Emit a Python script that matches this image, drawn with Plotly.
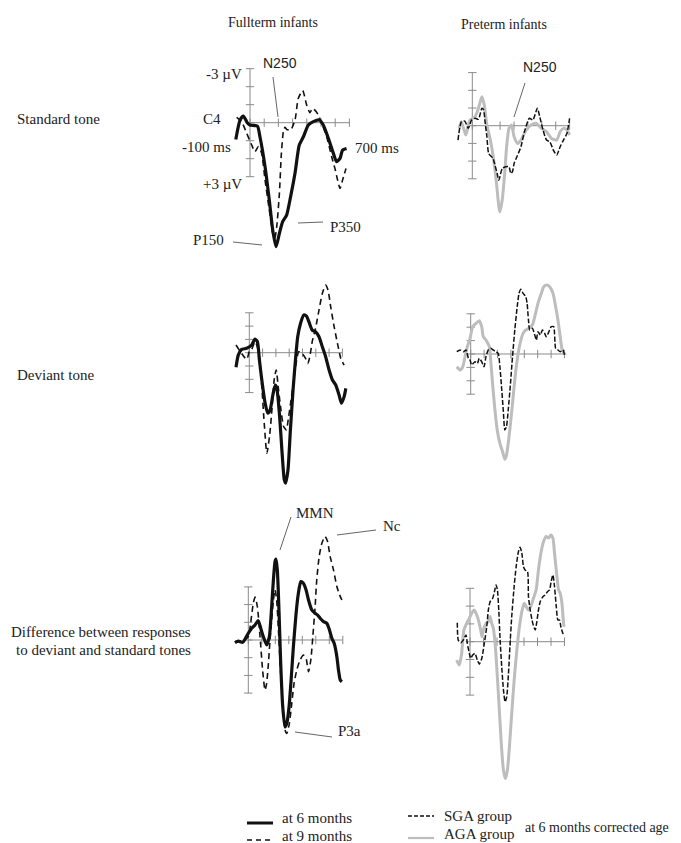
import plotly.graph_objects as go

# ---------------- data (time in ms, amplitude in µV; positive plotted downward) ----------------
# Fullterm, standard tone
ft_std_6m_t = [-100,-70,-47,-19,0,52,70,106,136,160,183,207,230,258,286,317,347,376,411,446,488,516,552,587,610,634,652,680]
ft_std_6m_v = [0.93,-0.15,-0.37,0,0.13,0.19,0.78,2.44,4.3,5.96,6.89,6.15,5.5,5.13,4.11,2.81,1.24,0.78,0.13,-0.06,-0.15,0.13,0.87,1.7,2.17,1.98,1.52,1.43]
ft_std_9m_t = [-94,-59,-23,12,35,59,82,106,136,160,174,188,207,221,235,246,258,286,317,340,371,399,422,441,460,481,505,540,575,598,617,634,652,676]
ft_std_9m_v = [-0.3,-0.06,0.59,1.24,1.61,1.33,1.7,3.19,4.85,6.15,6.43,5.78,3.93,1.7,0.5,0.26,0.37,0.41,-0.15,-1.35,-1.78,-0.98,-0.56,-0.8,-0.67,-0.43,0.04,0.78,1.89,2.54,3.19,3.65,3.19,2.54]

# Preterm, standard tone
pt_std_sga_t = [-103,-78,-54,-29,-5,20,44,69,81,93,105,118,149,166,179,191,215,240,264,277,289,301,321,350,375,411,436,468,485,509,534,558,583,607,632,656,681,700]
pt_std_sga_v = [0.81,-0.23,-0.26,0.15,-0.32,-0.42,-0.36,-0.98,-0.89,-0.13,0.62,1.57,1.85,2.32,2.7,3.08,2.42,2.32,2.32,2.7,2.6,2.13,1.75,1.19,0.34,-0.42,-0.32,-0.98,-0.51,0.25,0.81,0.91,1.38,1.66,1.19,0.81,0.43,-0.42]
pt_std_aga_t = [-95,-78,-47,-17,20,44,69,86,105,130,154,174,191,198,215,233,247,264,282,301,326,350,387,423,460,497,534,570,607,632,656,681,700]
pt_std_aga_v = [0.15,-0.23,0.53,-0.32,-0.51,-0.98,-1.64,-1.17,-0.04,0.81,1.94,3.26,4.58,4.87,4.21,2.7,1.19,0.15,-0.04,0.62,1.0,0.81,0.25,-0.04,-0.13,0.15,0.34,0.72,0.81,0.34,0.15,0.25,0.53]

# Fullterm, deviant tone
ft_dev_6m_t = [-100,-83,-58,-20,18,43,61,76,94,119,139,157,177,195,207,228,245,263,273,291,309,329,347,364,385,410,430,448,473,498,524,549,574,600,625,650,675,693,713,726]
ft_dev_6m_v = [1.1,0.18,-0.25,-0.33,-0.58,-1.03,-0.83,0.55,2.05,3.8,4.55,4.3,3.18,2.43,2.68,4.8,7.3,9.55,9.8,8.8,5.8,2.8,0.55,-1.2,-2.2,-2.83,-2.75,-2.33,-1.7,-1.58,-1.2,-0.45,0.3,1.3,2.05,2.43,3.18,3.8,3.3,2.68]
ft_dev_9m_t = [-100,-20,0,18,43,56,76,94,114,132,152,170,187,202,220,238,258,278,296,314,334,354,372,397,423,440,455,473,498,524,549,574,592,612,638,663,688,713]
ft_dev_9m_v = [-0.58,0.5,-0.08,-0.25,-0.83,-0.58,0.3,2.55,5.55,7.55,6.3,4.3,2.05,1.3,2.8,4.3,5.55,5.8,4.8,3.55,2.05,0.68,-0.08,0.05,0.43,0.8,0.3,-0.83,-1.83,-3.2,-4.45,-5.08,-4.7,-3.45,-1.95,-0.7,0.43,0.93]

# Preterm, deviant tone
pt_dev_sga_t = [-104,-79,-54,-35,-17,-5,7,32,50,64,82,99,114,131,149,168,188,205,218,230,243,255,267,280,297,312,329,347,361,374,391,411,421,431,441,460,478,490,502,520,535,552,564,584,601,619,634,651,668,688,700]
pt_dev_sga_v = [-0.17,-0.3,-0.17,-0.3,0.32,0.45,0.82,0.57,0.7,0.32,0.57,0.95,0.2,-0.3,-0.42,-0.3,-0.17,-0.05,0.95,2.44,4.18,5.67,5.42,4.18,2.19,0.2,-1.79,-3.53,-4.53,-4.83,-4.53,-4.28,-3.78,-2.54,-1.79,-1.92,-1.42,-1.04,-1.67,-1.42,-1.79,-1.54,-1.29,-1.67,-2.04,-2.04,-0.42,-0.3,-0.17,-0.3,0.07]
pt_dev_aga_t = [-104,-79,-59,-42,-25,-5,15,40,64,82,94,114,139,149,163,181,198,218,238,255,267,280,297,312,329,347,366,391,411,436,460,478,502,527,545,569,589,614,634,651,668,683,708]
pt_dev_aga_v = [0.95,1.19,0.95,0.2,-0.55,-1.17,-2.04,-2.29,-2.49,-2.04,-1.29,-1.04,-0.55,0.45,2.19,4.18,5.67,6.67,7.29,7.86,7.54,6.67,5.17,3.68,1.94,0.45,-0.67,-1.54,-1.79,-1.92,-2.16,-2.79,-3.78,-4.53,-5.02,-5.15,-5.02,-4.53,-3.53,-2.54,-1.29,-0.3,0.07]

# Fullterm, difference wave
ft_dif_6m_t = [-99,-74,-42,-25,0,25,50,74,92,111,136,156,173,186,198,205,215,228,240,255,272,285,302,317,334,354,371,389,408,428,446,470,495,512,532,557,582,601,619,636,656,668,681,693]
ft_dif_6m_v = [0.15,0.06,0.13,-0.04,-0.38,-0.66,-0.85,-1.09,-0.66,-0.19,0.28,-0.19,-1.89,-3.4,-4.43,-4.57,-3.96,-1.51,1.32,3.77,4.91,4.72,3.77,2.26,0.38,-1.51,-2.64,-3.3,-3.21,-2.83,-2.26,-1.7,-1.51,-1.42,-1.23,-1.04,-0.94,-0.57,-0.09,0.19,0.94,1.7,2.26,2.36]
ft_dif_9m_t = [-99,-37,0,17,37,50,67,87,106,124,136,149,161,173,186,198,210,223,240,260,272,285,304,322,339,359,384,408,428,446,463,478,495,507,525,545,569,587,606,631,656,676,693]
ft_dif_9m_v = [0.09,0.04,-0.19,-0.94,-2.08,-2.42,-1.89,-0.19,1.7,2.83,2.45,1.32,0,-1.13,-2.26,-2.83,-2.26,-0.57,1.89,4.15,5.09,5.28,4.72,3.58,2.45,1.7,1.13,0.85,1.04,1.79,1.13,-0.19,-1.89,-3.4,-4.72,-5.47,-5.85,-5.57,-4.72,-3.96,-3.02,-2.55,-2.26]

# Preterm, difference wave
pt_dif_sga_t = [-94,-87,-69,-50,-30,-20,-5,5,20,37,54,69,87,104,124,136,149,168,181,193,203,213,223,235,248,260,272,285,297,309,327,342,359,371,384,396,408,426,433,446,465,483,495,507,520,540,557,574,589,601,614,626,639,651,663,673,688,698]
pt_dif_sga_v = [-1.07,-0.09,0.06,-0.09,-0.38,0.09,0.66,0.94,0.75,0.66,1.03,1.26,0.94,0.19,-0.84,-1.78,-2.25,-2.44,-2.81,-3.19,-2.91,-1.78,-0.09,1.41,2.72,3.38,3.1,1.78,0.09,-1.41,-3.1,-4.22,-5.07,-5.31,-4.97,-4.22,-4.03,-3.94,-2.53,-1.78,-1.03,-0.66,-1.13,-1.78,-2.25,-2.53,-2.63,-2.81,-2.91,-3.38,-3.75,-3.1,-1.97,-1.22,-1.22,-0.84,-0.47,-0.38]
pt_dif_aga_t = [-99,-79,-62,-45,-25,-5,12,30,45,62,79,89,99,119,136,149,161,173,186,198,210,223,235,248,262,277,292,309,327,347,366,384,401,416,433,450,470,490,507,525,545,564,582,599,614,626,644,656,668,681,693,698]
pt_dif_aga_v = [1.03,1.31,0.66,-0.66,-1.03,-1.31,-1.59,-1.78,-1.59,-1.22,-0.66,-0.28,-0.66,-1.03,-1.13,-1.41,-1.03,-0.75,0.09,1.41,2.91,4.6,6.1,7.22,7.69,7.22,5.91,4.03,2.16,0.47,-0.84,-1.69,-2.16,-1.97,-1.78,-1.97,-2.44,-2.91,-4.03,-4.97,-5.63,-5.91,-5.82,-6.0,-5.82,-4.97,-3.66,-2.91,-2.72,-2.16,-1.03,-0.84]

x_ticks = [0, 100, 200, 300, 400, 500, 600, 700]
y_ticks = [-3, -2, -1, 0, 1, 2, 3]

# ---------------- layout geometry ----------------
W, H = 681, 843
def pxx(x): return x / W
def pyy(y): return 1 - y / H

# origin pixel (t=0, v=0), px per 100 ms, px per µV
panels = [
    dict(ox=250.0, oy=122.7, sx=14.2, sy=18.0),   # fullterm standard
    dict(ox=472.3, oy=125.7, sx=13.9, sy=17.7),   # preterm standard
    dict(ox=249.3, oy=352.7, sx=13.3, sy=13.3),   # fullterm deviant
    dict(ox=470.7, oy=354.0, sx=13.4, sy=13.4),   # preterm deviant
    dict(ox=248.3, oy=640.0, sx=13.5, sy=17.7),   # fullterm difference
    dict(ox=470.0, oy=641.7, sx=13.5, sy=17.8),   # preterm difference
]
XR = (-130, 740)
YR = (-6.5, 10.5)

BLACK = "#111111"
GRAY = "#bdbdbd"
AXC = "#8a8a8a"

series = [
    [(ft_std_6m_t, ft_std_6m_v, "solid"), (ft_std_9m_t, ft_std_9m_v, "dash")],
    [(pt_std_aga_t, pt_std_aga_v, "gray"), (pt_std_sga_t, pt_std_sga_v, "sga")],
    [(ft_dev_6m_t, ft_dev_6m_v, "solid"), (ft_dev_9m_t, ft_dev_9m_v, "dash")],
    [(pt_dev_aga_t, pt_dev_aga_v, "gray"), (pt_dev_sga_t, pt_dev_sga_v, "sga")],
    [(ft_dif_6m_t, ft_dif_6m_v, "solid"), (ft_dif_9m_t, ft_dif_9m_v, "dash")],
    [(pt_dif_aga_t, pt_dif_aga_v, "gray"), (pt_dif_sga_t, pt_dif_sga_v, "sga")],
]
styles = {
    "solid": dict(color=BLACK, width=3.2, dash="solid"),
    "dash": dict(color=BLACK, width=1.6, dash="6px,4px"),
    "gray": dict(color=GRAY, width=3.0, dash="solid"),
    "sga": dict(color=BLACK, width=1.5, dash="5px,2px"),
}

fig = go.Figure()
layout = dict(width=W, height=H, margin=dict(l=0, r=0, t=0, b=0),
              paper_bgcolor="white", plot_bgcolor="rgba(0,0,0,0)", showlegend=False)

for i, p in enumerate(panels):
    n = i + 1
    xa = "x" if n == 1 else f"x{n}"
    ya = "y" if n == 1 else f"y{n}"
    x0 = p["ox"] + XR[0] / 100 * p["sx"]
    x1 = p["ox"] + XR[1] / 100 * p["sx"]
    ytop = p["oy"] + YR[0] * p["sy"]
    ybot = p["oy"] + YR[1] * p["sy"]
    layout["xaxis" if n == 1 else f"xaxis{n}"] = dict(domain=[pxx(x0), pxx(x1)], range=list(XR),
                                                      visible=False, anchor=ya)
    layout["yaxis" if n == 1 else f"yaxis{n}"] = dict(domain=[pyy(ybot), pyy(ytop)], range=[YR[1], YR[0]],
                                                      visible=False, anchor=xa)
    # axes crossing at (0 ms, 0 µV)
    fig.add_trace(go.Scatter(x=[0, 700], y=[0, 0], mode="lines", line=dict(color=AXC, width=1),
                             xaxis=xa, yaxis=ya, hoverinfo="skip"))
    fig.add_trace(go.Scatter(x=[0, 0], y=[y_ticks[0], y_ticks[-1]], mode="lines",
                             line=dict(color=AXC, width=1), xaxis=xa, yaxis=ya, hoverinfo="skip"))
    fig.add_trace(go.Scatter(x=x_ticks, y=[0] * len(x_ticks), mode="markers",
                             marker=dict(symbol="line-ns", size=6, line=dict(color=AXC, width=1)),
                             xaxis=xa, yaxis=ya, hoverinfo="skip"))
    fig.add_trace(go.Scatter(x=[0] * len(y_ticks), y=y_ticks, mode="markers",
                             marker=dict(symbol="line-ew", size=6, line=dict(color=AXC, width=1)),
                             xaxis=xa, yaxis=ya, hoverinfo="skip"))
    for t, v, st in series[i]:
        fig.add_trace(go.Scatter(x=t, y=v, mode="lines", line=dict(**styles[st], shape="spline", smoothing=0.6),
                                 xaxis=xa, yaxis=ya, hoverinfo="skip"))

SERIF = "Liberation Serif, Times New Roman, serif"
SANS = "Liberation Sans, Arial, sans-serif"
ann = []
def txt(s, x, y, size=15, anchor="center", font=SERIF):
    ann.append(dict(text=s, x=pxx(x), y=pyy(y), xref="paper", yref="paper", showarrow=False,
                    xanchor=anchor, yanchor="middle", font=dict(family=font, size=size, color="#222")))

# column & row headers
txt("Fullterm infants", 273, 22, 14)
txt("Preterm infants", 504, 24, 14)
txt("Standard tone", 15, 119, 15, "left")
txt("Deviant tone", 15, 375, 15, "left")
txt("Difference between responses", 193, 632, 15, "right")
txt("to deviant and standard tones", 193, 650, 15, "right")

# panel A axis captions
txt("-3 µV", 244, 74, 15, "right")
txt("C4", 212, 119, 15)
txt("-100 ms", 206, 147, 15)
txt("+3 µV", 244, 184, 15, "right")
txt("700 ms", 377, 148, 15)

# component labels
txt("N250", 280, 63, 14, font=SANS)
txt("P350", 345, 227, 15)
txt("P150", 208, 240, 15)
txt("N250", 540, 67, 14, font=SANS)
txt("MMN", 315, 513, 15)
txt("Nc", 392, 526, 15)
txt("P3a", 349, 731, 15)

# legend
txt("at 6 months", 280, 818, 15, "left")
txt("at 9 months", 280, 836, 15, "left")
txt("SGA group", 442, 816, 15, "left")
txt("AGA group", 442, 834, 15, "left")
txt("at 6 months corrected age", 523, 827, 14, "left")

shapes = []
def seg(x0, y0, x1, y1, color="#666", width=1, dash="solid"):
    shapes.append(dict(type="line", xref="paper", yref="paper", x0=pxx(x0), y0=pyy(y0), x1=pxx(x1), y1=pyy(y1),
                       line=dict(color=color, width=width, dash=dash)))

# leader lines
seg(273, 77, 278, 117)
seg(298, 223, 323, 222)
seg(233, 242, 262, 245)
seg(525, 83, 514, 117)
seg(291, 517, 280, 550)
seg(337, 535, 376, 530)
seg(295, 732, 332, 737)

# legend keys
seg(247, 823, 273, 823, BLACK, 3)
seg(247, 840, 273, 840, BLACK, 1.6, "5px,4px")
seg(408, 816, 434, 816, BLACK, 1.3, "4px,2px")
seg(408, 838, 434, 838, GRAY, 2.2)

layout["annotations"] = ann
layout["shapes"] = shapes
fig.update_layout(**layout)
fig.write_html("out.html", config={"displayModeBar": False},
               post_script="document.body.style.margin='0px';document.body.style.overflow='hidden';")
